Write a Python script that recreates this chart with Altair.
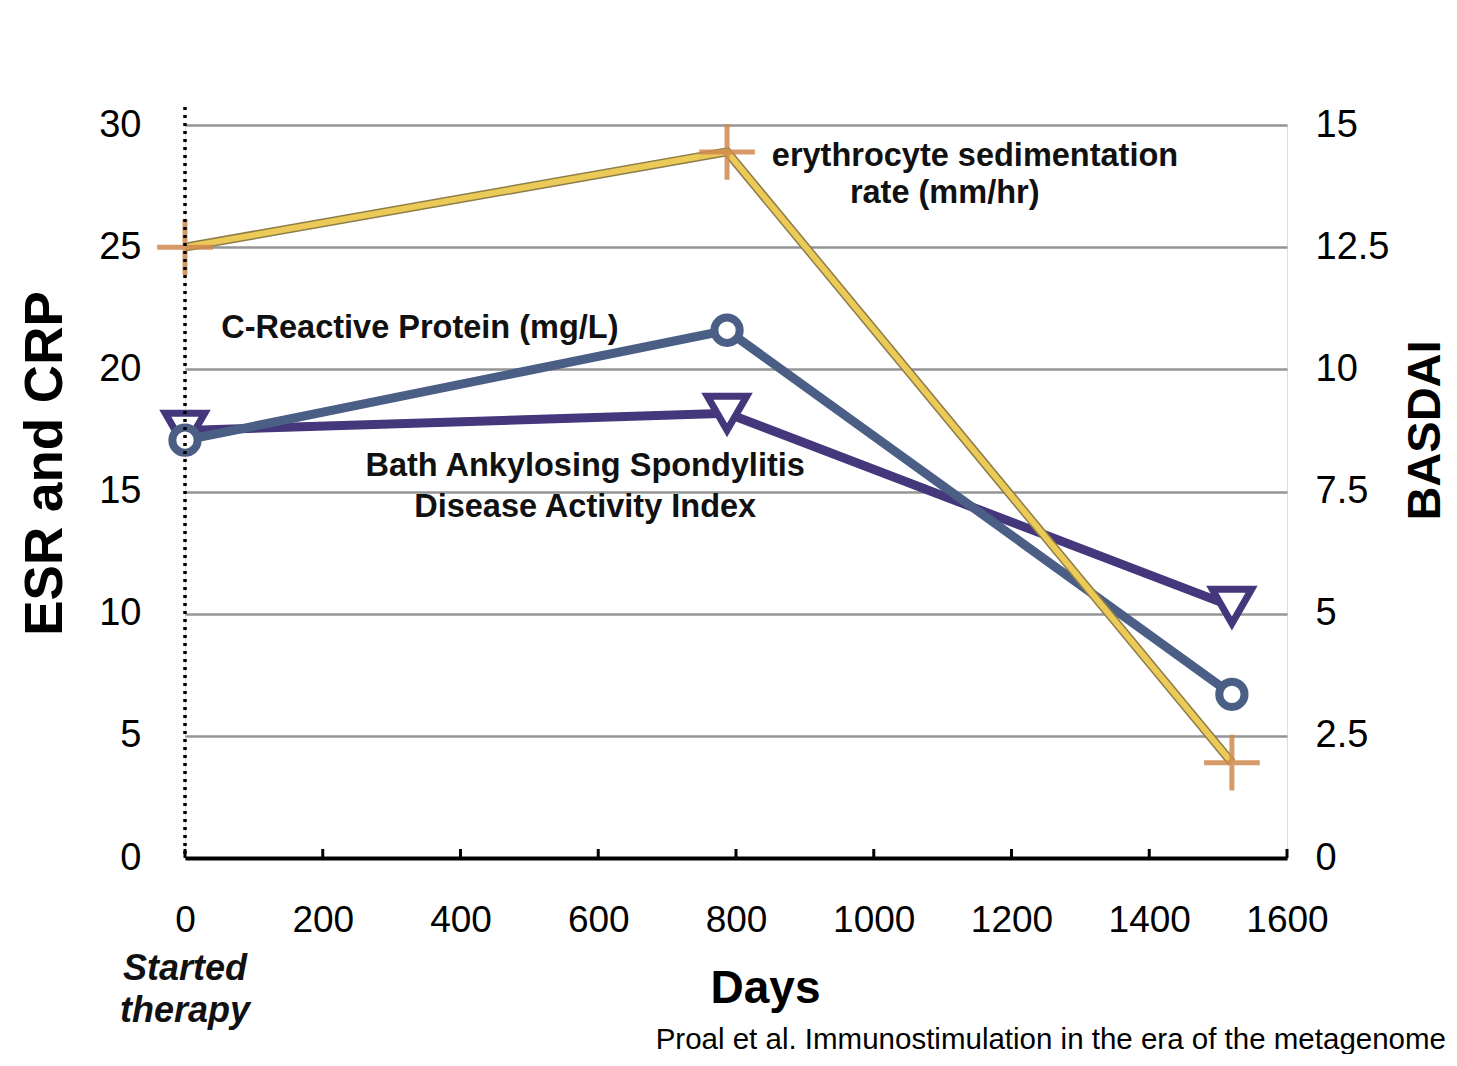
import altair as alt
import pandas as pd

# ---- data ----
days = [0, 787, 1520]
esr = [25.0, 28.9, 3.9]          # erythrocyte sedimentation rate (mm/hr), left axis
crp = [17.1, 21.6, 6.7]          # C-Reactive Protein (mg/L), left axis
basdai = [8.75, 9.1, 5.15]       # BASDAI, right axis

x_ticks = [0, 200, 400, 600, 800, 1000, 1200, 1400, 1600]
left_ticks = [0, 5, 10, 15, 20, 25, 30]
right_ticks = [0, 2.5, 5, 7.5, 10, 12.5, 15]

ann_text = ["erythrocyte sedimentation", "rate (mm/hr)", "C-Reactive Protein (mg/L)",
            "Bath Ankylosing Spondylitis", "Disease Activity Index"]
ann_day = [1147, 1103, 341, 581, 581]
ann_val = [28.75, 27.2, 21.7, 16.05, 14.35]

df = pd.DataFrame({"day": days, "esr": esr, "crp": crp, "basdai": basdai})
ann = pd.DataFrame({"text": ann_text, "day": ann_day, "val": ann_val})
ticks_df = pd.DataFrame({"day": x_ticks})
start_df = pd.DataFrame({"day": [0, 0], "text": ["Started", "therapy"], "row": [0, 1]})

W, H = 1102, 733
FONT = "Liberation Sans"

x_axis = alt.Axis(values=x_ticks, title="Days", grid=False, ticks=False, format="d",
                  labelFlush=False, labelOverlap=False,
                  domainColor="black", domainWidth=4,
                  labelFontSize=37, labelFont=FONT, labelColor="black", labelPadding=44,
                  titleFontSize=46, titleFont=FONT, titleFontWeight="bold", titleColor="black",
                  titleX=580, titleY=130, titleBaseline="middle", titleAnchor="start", titleAlign="center")
x_scale = alt.Scale(domain=[0, 1600], nice=False, zero=False)

left_axis = alt.Axis(orient="left", values=left_ticks, title="ESR and CRP", grid=True,
                     gridColor="#959595", gridWidth=2.5, domain=False, ticks=False,
                     labelFontSize=38, labelFont=FONT, labelColor="black", labelPadding=44,
                     labelExpr="'' + datum.value",
                     titleFontSize=53, titleFont=FONT, titleFontWeight="bold", titleColor="black",
                     titleAngle=270, titleX=-140, titleY=338, titleAlign="center", titleBaseline="middle")
left_scale = alt.Scale(domain=[0, 30], nice=False)

right_axis = alt.Axis(orient="right", values=right_ticks, title="BASDAI", grid=False,
                      domain=False, ticks=False, labelExpr="'' + datum.value",
                      labelFontSize=38, labelFont=FONT, labelColor="black", labelPadding=28,
                      titleFontSize=47, titleFont=FONT, titleFontWeight="bold", titleColor="black",
                      titleAngle=270, titleX=138, titleY=305, titleAlign="center", titleBaseline="middle")
right_scale = alt.Scale(domain=[0, 15], nice=False)


def X(field="day"):
    return alt.X(f"{field}:Q", scale=x_scale, axis=x_axis)


def YL(field):
    return alt.Y(f"{field}:Q", scale=left_scale, axis=left_axis)


# ---- right axis layer (BASDAI) ----
bas_line = alt.Chart(df).mark_line(color="#45377b", strokeWidth=9).encode(
    x=X(), y=alt.Y("basdai:Q", scale=right_scale, axis=right_axis))
bas_pts = alt.Chart(df).mark_point(shape="triangle-down", filled=True, fill="white",
                                   stroke="#45377b", strokeWidth=7, size=1550, opacity=1).encode(
    x=X(), y=alt.Y("basdai:Q", scale=right_scale, axis=right_axis))
right = alt.layer(bas_line, bas_pts)

# ---- left axis layer (ESR, CRP, annotations) ----
crp_line = alt.Chart(df).mark_line(color="#4b5f86", strokeWidth=9).encode(x=X(), y=YL("crp"))
crp_pts = alt.Chart(df).mark_point(shape="circle", filled=True, fill="white", stroke="#4b5f86",
                                   strokeWidth=8, size=640, opacity=1).encode(x=X(), y=YL("crp"))
esr_shadow = alt.Chart(df).mark_line(color="#8c7d48", strokeWidth=9).encode(x=X(), y=YL("esr"))
esr_line = alt.Chart(df).mark_line(color="#ecca58", strokeWidth=6).encode(x=X(), y=YL("esr"))
esr_pts = alt.Chart(df).mark_point(shape="M-1,0L1,0M0,-1L0,1", filled=False, stroke="#cf8a4e",
                                   strokeWidth=5, size=3100, opacity=0.85).encode(x=X(), y=YL("esr"))

dotted = alt.Chart(pd.DataFrame({"day": [0]})).mark_rule(
    color="black", strokeWidth=3.5, strokeDash=[3, 5]).encode(
    x=X(), y=alt.value(-18), y2=alt.value(H))

up_ticks = alt.Chart(ticks_df).mark_rule(color="black", strokeWidth=3).encode(
    x=X(), y=alt.value(H - 9), y2=alt.value(H))

labels = alt.Chart(ann).mark_text(font=FONT, fontSize=32.5, fontWeight="bold", color="#111111",
                                  align="center", baseline="middle").encode(
    x=X(), y=YL("val"), text="text:N")

started = alt.Chart(start_df).mark_text(font=FONT, fontSize=36, fontWeight="bold", fontStyle="italic",
                                        color="#111111", align="center", baseline="middle").encode(
    x=X(), y=alt.Y("row:Q", scale=alt.Scale(domain=[0, 1], range=[H + 111, H + 153]), axis=None),
    text="text:N")

caption = alt.Chart(pd.DataFrame({"text": ["Proal et al. Immunostimulation in the era of the metagenome"]})).mark_text(
    font=FONT, fontSize=29.5, color="black", align="right", baseline="middle").encode(
    x=alt.value(W + 159), y=alt.value(H + 182), text="text:N")

left = alt.layer(crp_line, crp_pts, esr_shadow, esr_line, esr_pts, dotted, up_ticks, labels)

chart = alt.layer(right, left, started, caption).resolve_scale(y="independent").properties(
    width=W, height=H,
    autosize=alt.AutoSizeParams(type="none"),
    padding={"left": 177, "top": 117, "right": 162, "bottom": 196},
).configure_view(stroke=None).configure(background="white")

chart.save("out.html", embed_options={"renderer": "svg", "actions": False})
